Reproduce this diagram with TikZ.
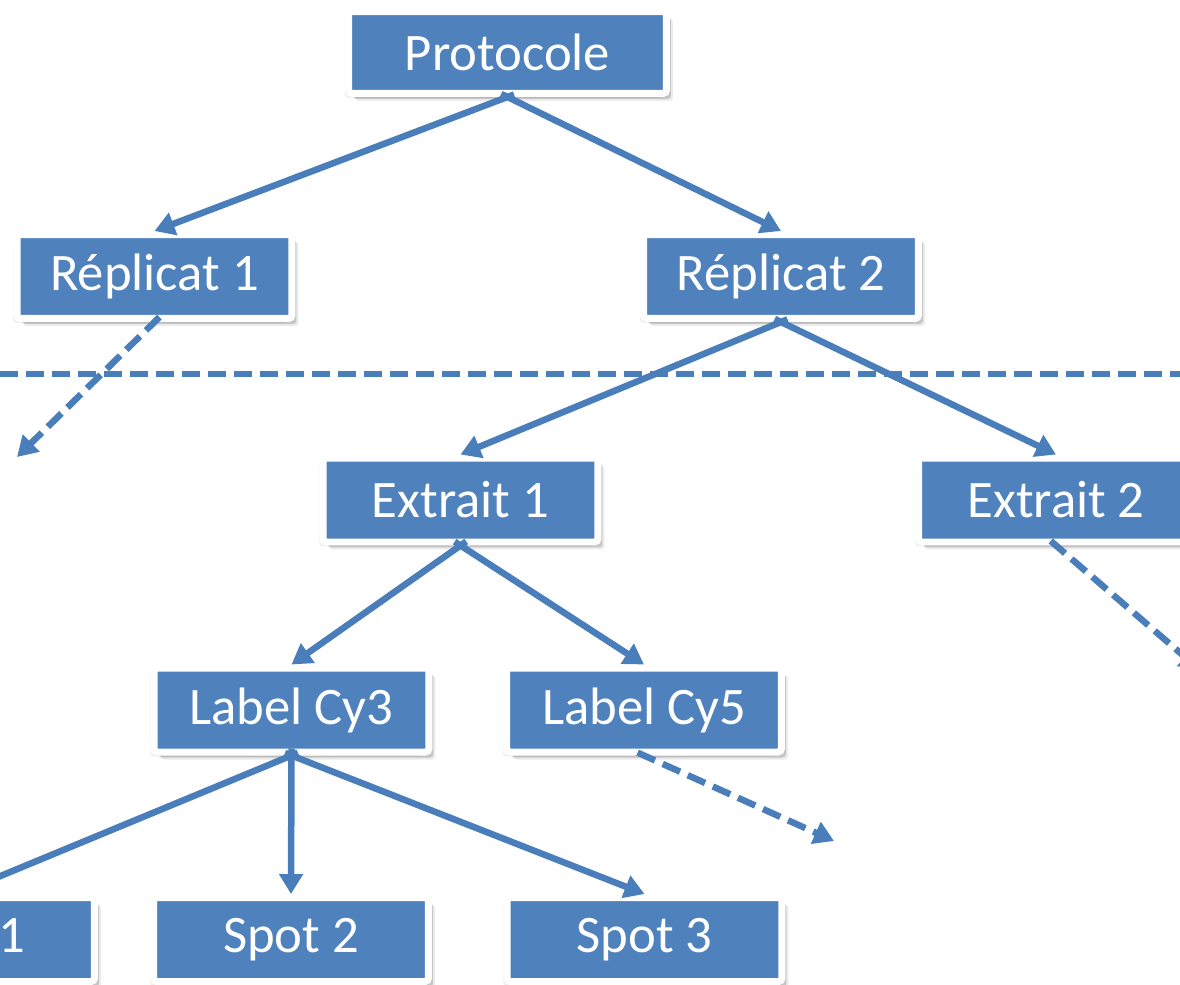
\documentclass[tikz,border=0pt]{standalone}
\usepackage{fontspec}
\setmainfont{Carlito}
\usetikzlibrary{arrows.meta, shadows}
\definecolor{boxblue}{HTML}{4F81BD}
\definecolor{linkblue}{HTML}{4A7EBB}

\begin{document}
\begin{tikzpicture}[x=0.02cm, y=-0.02cm,
            box/.style={rectangle, draw=white, line width=0.14cm, rounded corners=2pt, fill=boxblue, text=white,
                minimum width=5.5cm, minimum height=1.68cm, font=\fontsize{30}{36}\selectfont,
                drop shadow={shadow xshift=1.3mm, shadow yshift=-1.5mm, opacity=0.08, fill=black},
                drop shadow={shadow xshift=0.9mm, shadow yshift=-1.1mm, opacity=0.16, fill=black},
                drop shadow={shadow xshift=-0.75mm, shadow yshift=-0.9mm, opacity=0.06, fill=black}},
            link/.style={-{Triangle[length=0.4cm, width=0.46cm]}, line width=0.13cm, draw=linkblue, shorten <=-0.14cm},
            maybe/.style={link, dash pattern=on 0.38cm off 0.17cm},
            cut/.style={line width=0.12cm, draw=linkblue, dash pattern=on 0.36cm off 0.16cm}]

            \useasboundingbox (0,0) rectangle (1180,984);
            \clip (0,0) rectangle (1180,984);

            \node[box, minimum width=6.36cm, minimum height=1.64cm] (proto) at (507.5,52.5) {Protocole};
            \node[box] (rep1) at (154.5,276.5) {Réplicat 1};
            \node[box] (rep2) at (781,276.5) {Réplicat 2};
            \node[box] (ext1) at (460.5,500) {Extrait 1};
            \node[box] (ext2) at (1056,500) {Extrait 2};
            \node[box] (cy3) at (291.5,710) {Label Cy3};
            \node[box] (cy5) at (644,710) {Label Cy5};
            \node[box] (spot1) at (-43,939.5) {Spot 1};
            \node[box] (spot2) at (291,939.5) {Spot 2};
            \node[box] (spot3) at (644.5,939.5) {Spot 3};

            % ends of the dashed links
            \coordinate (cutL) at (0,374);
            \coordinate (cutR) at (1180,374);
            \coordinate (rep1end) at (17,457);
            \coordinate (cy5end) at (834,841);
            \coordinate (ext2end) at (1200,670);

            \draw[cut] (cutL) -- (cutR);

            \draw[link] (proto.south) -- (rep1.north);
            \draw[link] (proto.south) -- (rep2.north);
            \draw[link] (rep2.south) -- (ext1.north);
            \draw[link] (rep2.south) -- (ext2.north);
            \draw[link] (ext1.south) -- (cy3.north);
            \draw[link] (ext1.south) -- (cy5.north);
            \draw[link] (cy3.south) -- (spot1.north);
            \draw[link] (cy3.south) -- (spot2.north);
            \draw[link] (cy3.south) -- (spot3.north);

            \draw[maybe] (rep1.south) -- (rep1end);
            \draw[maybe] (cy5.south) -- (cy5end);
            \draw[maybe] (ext2.south) -- (ext2end);
        \end{tikzpicture}
\end{document}
